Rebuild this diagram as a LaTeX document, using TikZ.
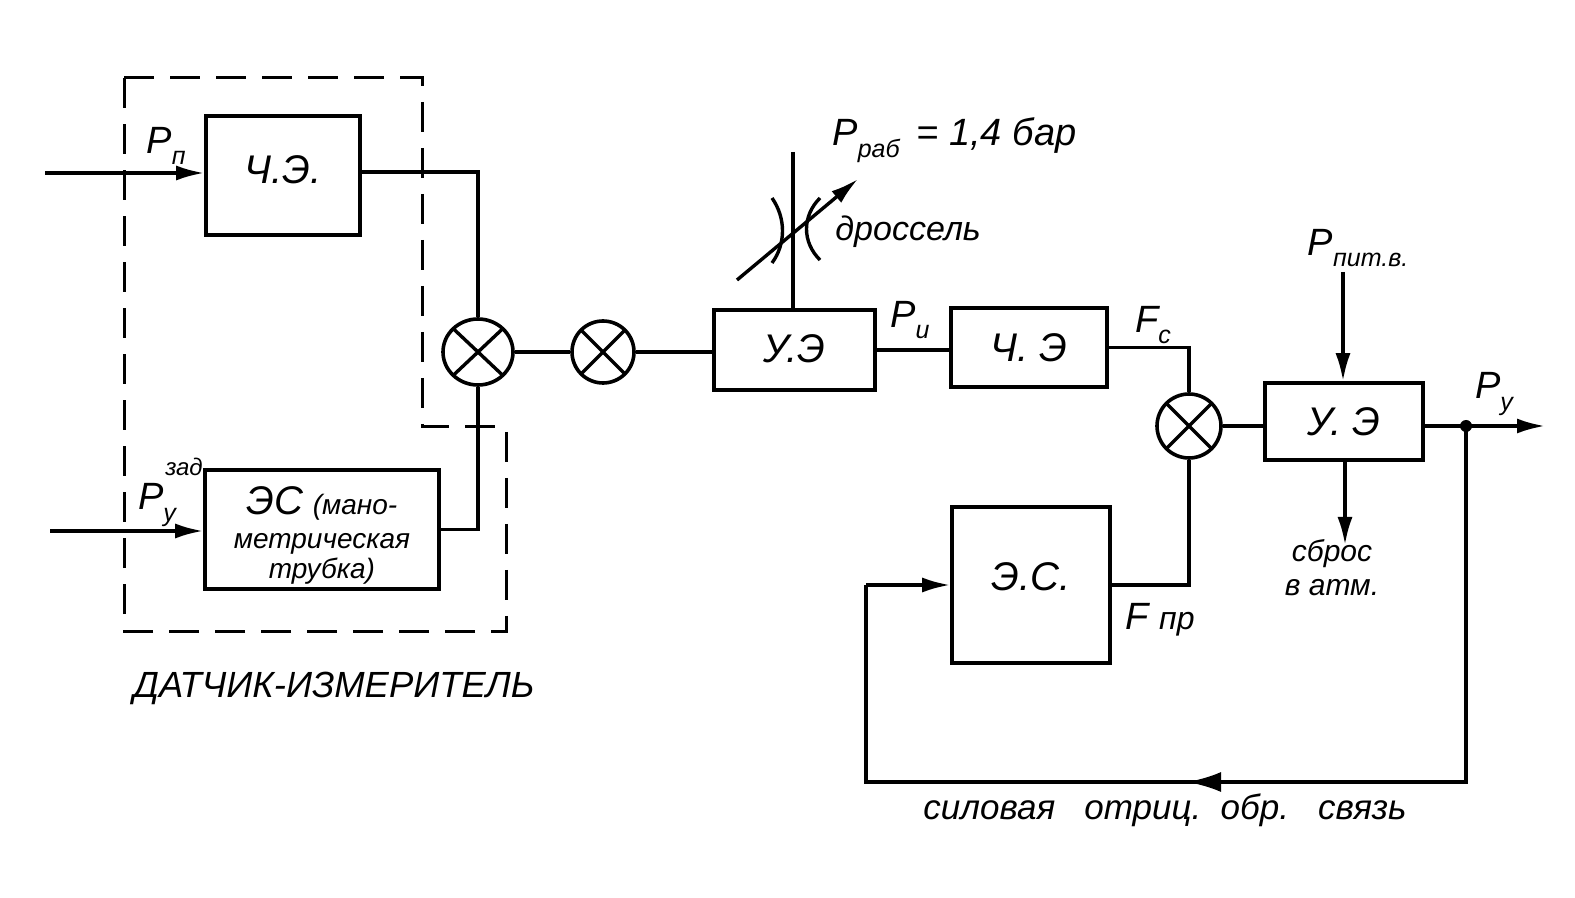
\documentclass[tikz,border=0pt]{standalone}
\usepackage{fontspec}
\setmainfont{Liberation Sans}
\usetikzlibrary{shapes.geometric,arrows.meta}
\newcommand{\fsz}[1]{\fontsize{#1}{#1}\selectfont}
\newcommand{\lowsub}[1]{\raisebox{-0.3em}{\fsz{12.5}#1}}
\tikzset{
  wire/.style={line width=1.7pt,line join=miter},
  flow/.style={wire,-{Latex[length=14pt,width=7.5pt]}},
  blk/.style={draw,line width=1.8pt,rectangle,inner sep=0pt,font=\itshape\fsz{20},align=center},
  sumj/.style={draw,line width=1.8pt,ellipse,inner sep=0pt,
    path picture={
      \draw[line width=1.7pt] (path picture bounding box.north west)--(path picture bounding box.south east);
      \draw[line width=1.7pt] (path picture bounding box.north east)--(path picture bounding box.south west);}},
  lbl/.style={inner sep=0pt,font=\itshape\fsz{19},align=center},
  small/.style={lbl,font=\itshape\fsz{12}},
  encl/.style={line width=1.5pt,dash pattern=on 15pt off 8pt}
}
\begin{document}
\begin{tikzpicture}[x=0.5pt,y=-0.5pt]
\useasboundingbox (0,0) rectangle (1575,898);
\fill[white] (0,0) rectangle (1575,898);
% enclosure
\draw[encl] (124,78) -- (422,78) -- (422,427) -- (506,427) -- (506,631) -- (124,631) -- cycle;
% blocks
\node[blk,minimum width=77pt,minimum height=59.5pt] (che1) at (283,175.5) {\raisebox{6pt}{Ч.Э.}};
\node[blk,minimum width=117pt,minimum height=59.5pt,font=\itshape\fsz{14},text width=112pt] (es1) at (322,529.5)
  {\rule{0pt}{20pt}\fsz{20}ЭС \fsz{14}(мано-\\[3pt]метрическая\\[1pt]трубка)};
\node[blk,minimum width=80.5pt,minimum height=40pt] (ue1) at (794.5,350) {\raisebox{1pt}{У.Э}};
\node[blk,minimum width=78pt,minimum height=39.5pt] (che2) at (1029,347.5) {Ч. Э};
\node[blk,minimum width=79pt,minimum height=38.5pt] (ue2) at (1344,421.5) {У. Э};
\node[blk,minimum width=79pt,minimum height=78pt] (es2) at (1031,585) {\raisebox{8pt}{Э.С.}};
% summing junctions
\node[sumj,minimum width=35pt,minimum height=33pt] (s1) at (478,352) {};
\node[sumj,minimum width=31pt,minimum height=31pt] (s2) at (603,352) {};
\node[sumj,minimum width=32pt,minimum height=32pt] (s3) at (1189,426) {};
% free ends
\coordinate (inA) at (45,173);
\coordinate (inB) at (50,531);
\coordinate (thTop) at (793,152);
\coordinate (thA) at (737,280);
\coordinate (thB) at (858,179);
\coordinate (pitEnd) at (1343,272);
\coordinate (ventEnd) at (1345,545);
\coordinate (outEnd) at (1545,426);
\coordinate (pyj) at (1466,426);
\coordinate (fbR) at (1466,782);
\coordinate (fbM) at (1187,782);
\coordinate (fbL) at (866,782);
\coordinate (fbT) at (866,585);
% connectors
\draw[flow] (inA) -- (che1.west |- inA);
\draw[flow] (inB) -- (es1.west |- inB);
\draw[wire] ([yshift=1.75pt]che1.east) -| (s1.north);
\draw[wire] (es1.east) -| (s1.south);
\draw[wire] (s1.east) -- (s2.west);
\draw[wire] (s2.east) -- (ue1.west |- s2.east);
\draw[wire] (ue1.east) -- (ue1.east -| che2.west);
\draw[wire] (che2.east) -| (s3.north);
\draw[wire] (es2.east) -| (s3.south);
\draw[wire] (s3.east) -- (ue2.west |- s3.east);
\draw[flow] (pitEnd) -- (pitEnd |- ue2.north);
\draw[flow] (ue2.south -| ventEnd) -- (ventEnd);
\draw[flow] (ue2.east |- outEnd) -- (outEnd);
\fill (pyj) circle (3pt);
\draw[wire] (pyj) -- (fbR) -- (fbL) -- (fbT);
\draw[wire,-{Latex[length=17pt,width=10pt]}] (fbR) -- (fbM);
\draw[flow] (fbT) -- (es2.west |- fbT);
% throttle
\draw[wire] (thTop) -- (thTop |- ue1.north);
\draw[wire] (772,198) .. controls (786,218) and (786,244) .. (772,263);
\draw[wire] (820,198) .. controls (802,216) and (802,242) .. (820,260);
\draw[flow] (thA) -- (thB);
% labels
\node[lbl] (lPn) at (166,146) {P\lowsub{п}};
\node[lbl] (lPy) at (157,505) {P\lowsub{у}};
\node[small] (lzad) at (184,467) {зад};
\node[lbl,anchor=west] (lPrab) at (832,140) {P\lowsub{раб} \,= 1,4 бар};
\node[lbl,anchor=west,font=\itshape\fsz{17}] (ldr) at (835,232) {дроссель};
\node[lbl] (lPi) at (910,320) {P\lowsub{и}};
\node[lbl] (lFc) at (1153,325) {F\lowsub{с}};
\node[lbl] (lFpr) at (1160,620) {F \fsz{16}пр};
\node[lbl] (lPpit) at (1358,248) {P\lowsub{пит.в.}};
\node[lbl] (lPy2) at (1494,394) {P\lowsub{у}};
\node[lbl,font=\itshape\fsz{15},align=center] (lvent) at (1332,568) {сброс\\[2pt]в атм.};
\node[lbl,font=\itshape\fsz{18.2}] (lsens) at (334,688) {ДАТЧИК-ИЗМЕРИТЕЛЬ};
\node[lbl,font=\itshape\fsz{17.5}] (lfb) at (1165,810) {силовая\ \ \ отриц.\ \ обр.\ \ \ связь};
\end{tikzpicture}
\end{document}
